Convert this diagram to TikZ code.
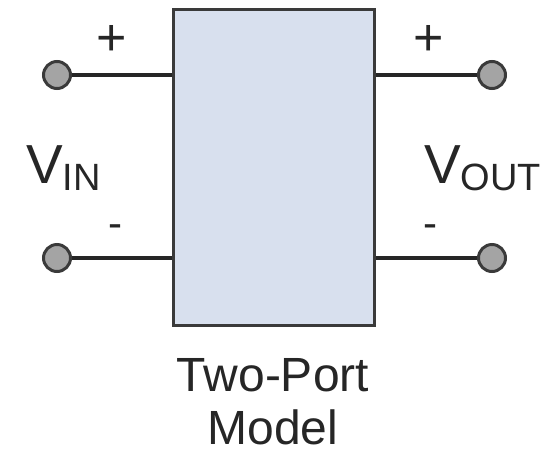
\documentclass[tikz,border=0pt]{standalone}
\usepackage{fontspec}
\setmainfont{Liberation Sans}
\definecolor{boxfill}{HTML}{D8E0EE}
\definecolor{edge}{HTML}{3A3A3A}
\definecolor{termfill}{HTML}{A4A4A4}
\tikzset{
  twoport/.style={draw=edge, line width=3pt, fill=boxfill, rectangle, minimum width=201pt, minimum height=316pt, inner sep=0pt},
  terminal/.style={draw=edge, line width=3pt, fill=termfill, circle, minimum size=27pt, inner sep=0pt},
  wire/.style={draw=black!85, line width=4pt},
  lbl/.style={inner sep=0pt, text=black!85},
}
\begin{document}
\begin{tikzpicture}[x=1pt, y=-1pt]
\useasboundingbox (0,0) rectangle (552,456);
\node[twoport] (box) at (273.5,167) {};
\node[terminal] (i1) at (57,75) {};
\node[terminal] (i2) at (57,258) {};
\node[terminal] (o1) at (492,75) {};
\node[terminal] (o2) at (492,258) {};
\coordinate (bi1) at (i1 -| box.west);
\coordinate (bi2) at (i2 -| box.west);
\coordinate (bo1) at (o1 -| box.east);
\coordinate (bo2) at (o2 -| box.east);
\draw[wire] (i1.east) -- (bi1);
\draw[wire] (i2.east) -- (bi2);
\draw[wire] (o1.west) -- (bo1);
\draw[wire] (o2.west) -- (bo2);
\node[lbl, font=\fontsize{52}{52}\selectfont] (pi) at (112,40) {+};
\node[lbl, font=\fontsize{52}{52}\selectfont] (po) at (429,40) {+};
\node[lbl, font=\fontsize{42}{42}\selectfont] (mi) at (115,231) {-};
\node[lbl, font=\fontsize{42}{42}\selectfont] (mo) at (430,231) {-};
\node[lbl, anchor=base west, font=\fontsize{55}{55}\selectfont] (vin) at (26,183) {V\raisebox{-7pt}{\fontsize{38}{38}\selectfont IN}};
\node[lbl, anchor=base west, font=\fontsize{55}{55}\selectfont] (vout) at (424,183) {V\raisebox{-7pt}{\fontsize{38}{38}\selectfont OUT}};
\node[lbl, anchor=base, text depth=0pt, font=\fontsize{48}{48}\selectfont] (t1) at (273,391) {Two-Port};
\node[lbl, anchor=base, text depth=0pt, font=\fontsize{48}{48}\selectfont] (t2) at (273,444) {Model};
\end{tikzpicture}
\end{document}
